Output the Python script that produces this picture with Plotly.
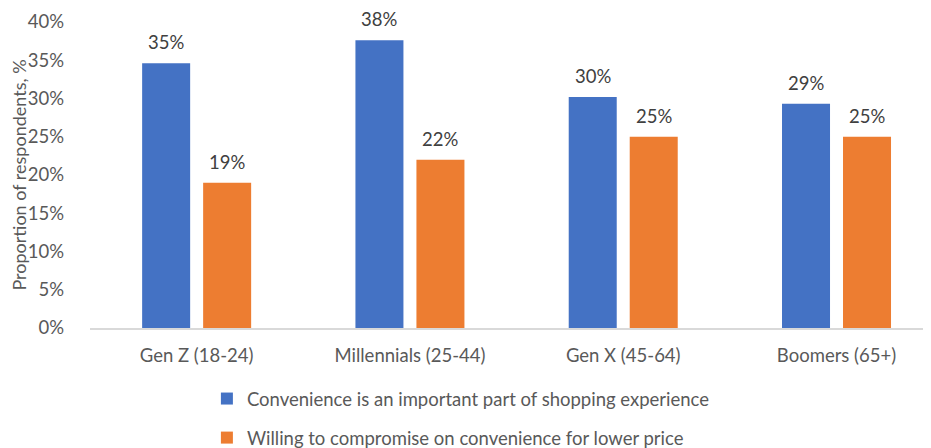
import plotly.graph_objects as go

# --- Data ---
generations = ["Gen Z (18-24)", "Millennials (25-44)", "Gen X (45-64)", "Boomers (65+)"]
convenience_important = [34.6, 37.6, 30.2, 29.3]
compromise_for_price = [19.0, 22.0, 25.0, 25.0]
series_names = [
    "Convenience is an important part of shopping experience",
    "Willing to compromise on convenience for lower price",
]
y_ticks = [0, 5, 10, 15, 20, 25, 30, 35, 40]

BLUE = "#4472C4"
ORANGE = "#ED7D31"
FONT = "Lato"
BARGAP = 0.428

fig = go.Figure()

for name, values, color, grp in [
    (series_names[0], convenience_important, BLUE, "a"),
    (series_names[1], compromise_for_price, ORANGE, "b"),
]:
    fig.add_trace(go.Bar(
        x=generations,
        y=values,
        name=name,
        legendgroup=grp,
        marker=dict(color=color, line=dict(width=0)),
    ))

# --- Data labels above bars (offset to match grouped bar positions) ---
offset = (1 - BARGAP) / 4
for sign, values in [(-1, convenience_important), (1, compromise_for_price)]:
    for i, v in enumerate(values):
        fig.add_annotation(
            x=i + sign * offset, y=v, xref="x", yref="y",
            text=f"{round(v):.0f}%",
            showarrow=False, yanchor="bottom", yshift=8,
            font=dict(family=FONT, size=18.5, color="#404040"),
        )

# --- Layout ---
fig.update_layout(
    width=931,
    height=448,
    margin=dict(l=82, r=8, t=14, b=128, autoexpand=False),
    paper_bgcolor="white",
    plot_bgcolor="white",
    barmode="group",
    bargap=BARGAP,
    bargroupgap=0.213,
    font=dict(family=FONT, size=18.5, color="#595959"),
    showlegend=True,
    legend=dict(
        orientation="v",
        x=0.139, y=-0.17, xanchor="left", yanchor="top",
        traceorder="grouped",
        tracegroupgap=12,
        font=dict(family=FONT, size=18.5, color="#595959"),
        itemwidth=30,
    ),
    xaxis=dict(
        range=[-0.5, 3.443],
        showgrid=False,
        showline=True,
        linecolor="#D9D9D9",
        linewidth=1.5,
        ticks="",
        ticklabelstandoff=10,
        automargin=False,
    ),
    yaxis=dict(
        range=[0, 40],
        tickvals=y_ticks,
        ticktext=[f"{t}%" for t in y_ticks],
        showgrid=False,
        zeroline=False,
        showline=False,
        ticks="",
        ticklabelstandoff=25,
        automargin=False,
        title=dict(text="Proportion of respondents, %", standoff=5,
                   font=dict(family=FONT, size=18, color="#595959")),
    ),
)

fig.write_html("out.html")
